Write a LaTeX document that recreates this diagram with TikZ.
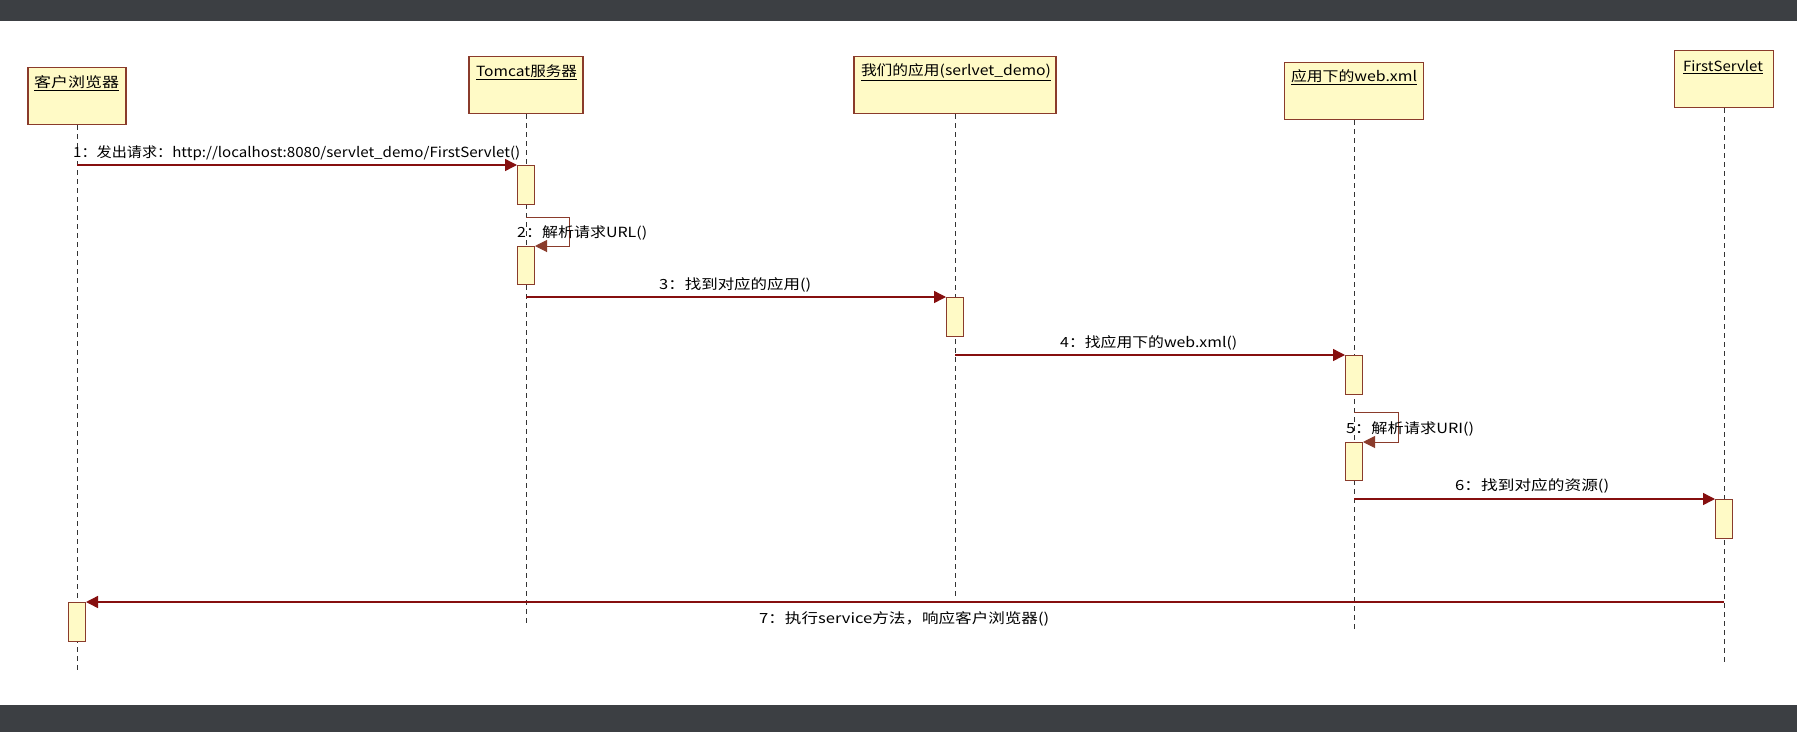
\documentclass[tikz,border=0pt]{standalone}
\usepackage{fontspec}
\setmainfont{Noto Sans CJK SC}
\usetikzlibrary{arrows.meta}
\definecolor{band}{HTML}{3C3F43}
\definecolor{boxfill}{HTML}{FFFAC6}
\definecolor{boxdraw}{HTML}{8A3B2B}
\definecolor{msg}{HTML}{860F0F}
\newcommand{\fitw}[2]{\resizebox{#1pt}{\height}{#2}}
\begin{document}
\begin{tikzpicture}[x=1pt,y=-1pt,
 actor/.style={draw=boxdraw, fill=boxfill, line width=1.2pt, minimum height=57pt, inner sep=0pt, anchor=north},
 actname/.style={font=\fontsize{14}{16}\selectfont, inner sep=0pt},
 act/.style={draw=boxdraw, fill=boxfill, line width=1pt, minimum width=17pt, inner sep=0pt, anchor=north},
 life/.style={dash pattern=on 5pt off 4pt, line width=0.8pt, black!80},
 msgline/.style={draw=msg, line width=1.4pt, -{Triangle[length=12pt,width=12pt]}},
 loopline/.style={draw=boxdraw, line width=1pt, -{Triangle[length=12pt,width=12pt]}},
 msglabel/.style={font=\fontsize{14}{16}\selectfont, inner sep=0pt, anchor=west},
]
\useasboundingbox (0,0) rectangle (1797,732);
\fill[white] (0,0) rectangle (1797,732);
\fill[band] (0,0) rectangle (1797,21);
\fill[band] (0,705) rectangle (1797,732);

% actor boxes
\node[actor, minimum width=98pt] (client) at (77,67) {};
\node[actor, minimum width=114pt] (tomcat) at (526,56) {};
\node[actor, minimum width=202pt] (app) at (955,56) {};
\node[actor, minimum width=139pt] (web) at (1354,62) {};
\node[actor, minimum width=99pt] (first) at (1724,50) {};

\node[actname] (n1) at (76.5,83) {\fitw{85}{\underline{客户浏览器}}};
\node[actname] (n2) at (526.5,72) {\fitw{101}{\underline{Tomcat服务器}}};
\node[actname] (n3) at (956,72) {\fitw{190}{\underline{我们的应用(serlvet\_demo)}}};
\node[actname] (n4) at (1354,77) {\fitw{126}{\underline{应用下的web.xml}}};
\node[actname] (n5) at (1723,67) {\fitw{80}{\underline{FirstServlet}}};

% lifeline ends
\coordinate (clientEnd) at (77,672);
\coordinate (tomcatEnd) at (526,623);
\coordinate (appEnd) at (955,600);
\coordinate (webEnd) at (1354,632);
\coordinate (firstEnd) at (1724,663);

\draw[life] (client.south) -- (clientEnd);
\draw[life] (tomcat.south) -- (tomcatEnd);
\draw[life] (app.south) -- (appEnd);
\draw[life] (web.south) -- (webEnd);
\draw[life] (first.south) -- (firstEnd);

% activations
\node[act, minimum height=39pt] (a1) at (526,165) {};
\node[act, minimum height=38pt] (a2) at (526,246) {};
\node[act, minimum height=39pt] (a3) at (955,297) {};
\node[act, minimum height=39pt] (a4) at (1354,355) {};
\node[act, minimum height=38pt] (a5) at (1354,442) {};
\node[act, minimum height=39pt] (a6) at (1724,499) {};
\node[act, minimum height=39pt] (a7) at (77,602) {};

% messages
\draw[msgline] (client.south |- a1.north) -- (a1.north west);
\coordinate (l2) at (526,217);
\draw[loopline] (l2) -- ++(43,0) -- ++(0,29) -- (a2.north east);
\draw[msgline] (tomcat.south |- a3.north) -- (a3.north west);
\draw[msgline] (app.south |- a4.north) -- (a4.north west);
\coordinate (l5) at (1354,412);
\draw[loopline] (l5) -- ++(44,0) -- ++(0,30) -- (a5.north east);
\draw[msgline] (web.south |- a6.north) -- (a6.north west);
\draw[msgline] (first.south |- a7.north) -- (a7.north east);

% message labels
\node[msglabel] (t1) at (73,153) {\fitw{447}{1：发出请求：http://localhost:8080/servlet\_demo/FirstServlet()}};
\node[msglabel] (t2) at (517,233) {\fitw{130}{2：解析请求URL()}};
\node[msglabel] (t3) at (659,285) {\fitw{152}{3：找到对应的应用()}};
\node[msglabel] (t4) at (1060,343) {\fitw{177}{4：找应用下的web.xml()}};
\node[msglabel] (t5) at (1346,429) {\fitw{128}{5：解析请求URI()}};
\node[msglabel] (t6) at (1455,486) {\fitw{154}{6：找到对应的资源()}};
\node[msglabel] (t7) at (759,619) {\fitw{290}{7：执行service方法，响应客户浏览器()}};
\end{tikzpicture}
\end{document}
